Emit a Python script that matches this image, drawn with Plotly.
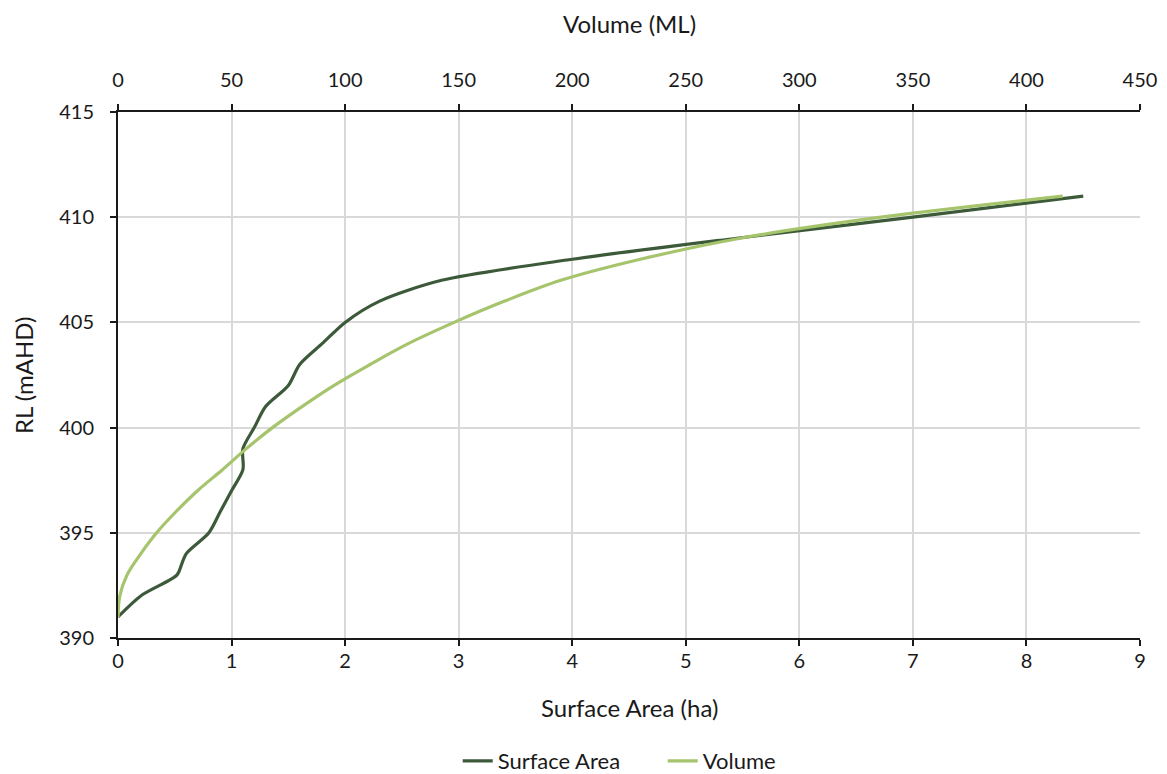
import plotly.graph_objects as go

# Surface Area series: RL levels (mAHD) and area (ha)
rl_area = [391, 392, 393, 393.5, 394, 395, 396, 397, 398, 399, 400, 401, 402, 403, 404, 405, 406, 407, 408, 409, 410, 411]
area = [0.0, 0.2, 0.52, 0.56, 0.6, 0.8, 0.9, 1.0, 1.1, 1.1, 1.2, 1.3, 1.5, 1.6, 1.8, 2.0, 2.3, 2.85, 4.0, 5.45, 7.0, 8.5]
# Volume series: RL levels (mAHD) and volume (ML)
rl_vol = [391, 392, 393, 394, 395, 396, 397, 398, 399, 400, 401, 402, 403, 404, 405, 406, 407, 408, 409, 410, 411]
volume = [0.0, 0.8, 4.0, 10.0, 17.0, 25.5, 35.0, 46.0, 56.5, 68.0, 81.0, 95.0, 111.0, 128.0, 148.0, 170.0, 195.0, 230.0, 274.0, 336.0, 416.0]

dark = "#3c5a3a"
light = "#a5c46c"
ink = "#1a1a1a"

fig = go.Figure()
fig.add_trace(go.Scatter(x=area, y=rl_area, mode="lines", name="Surface Area",
                         line=dict(color=dark, width=3.2, shape="spline", smoothing=0.8)))
fig.add_trace(go.Scatter(x=volume, y=rl_vol, mode="lines", name="Volume", xaxis="x2",
                         line=dict(color=light, width=3.2, shape="spline", smoothing=1.0)))

axis_common = dict(showline=True, linecolor=ink, linewidth=2, ticks="outside", ticklen=6,
                   tickcolor=ink, tickwidth=2, zeroline=False, tickfont=dict(size=20),
                   automargin=False)

# the page body adds an 8px offset, margins below allow for it
fig.update_layout(
    width=1167, height=774,
    margin=dict(l=110, r=35, t=104, b=144),
    plot_bgcolor="white", paper_bgcolor="white",
    font=dict(family="Lato", size=20, color=ink),
    xaxis=dict(range=[0, 9], dtick=1, showgrid=True, gridcolor="#d9d9d9", gridwidth=1.5,
               ticklabelstandoff=-2, **axis_common),
    xaxis2=dict(range=[0, 450], dtick=50, overlaying="x", side="top", showgrid=False,
                ticklabelstandoff=9, **axis_common),
    yaxis=dict(range=[390, 415], dtick=5, showgrid=True, gridcolor="#d9d9d9", gridwidth=1.5,
               ticklabelstandoff=12, **axis_common),
    legend=dict(orientation="h", x=0.533, xanchor="center", yref="container", y=0.027,
                yanchor="middle", font=dict(size=22), entrywidth=160),
    showlegend=True,
)

# axis titles
fig.add_annotation(text="Surface Area (ha)", xref="paper", yref="paper", x=0.5, y=0,
                   yshift=-69, showarrow=False, font=dict(size=24), yanchor="middle")
fig.add_annotation(text="Volume (ML)", xref="paper", yref="paper", x=0.5, y=1,
                   yshift=89, showarrow=False, font=dict(size=24), yanchor="middle")
fig.add_annotation(text="RL (mAHD)", xref="paper", yref="paper", x=0, y=0.5,
                   xshift=-95, showarrow=False, font=dict(size=24), textangle=-90,
                   xanchor="center", yanchor="middle")

fig.write_html("out.html")
